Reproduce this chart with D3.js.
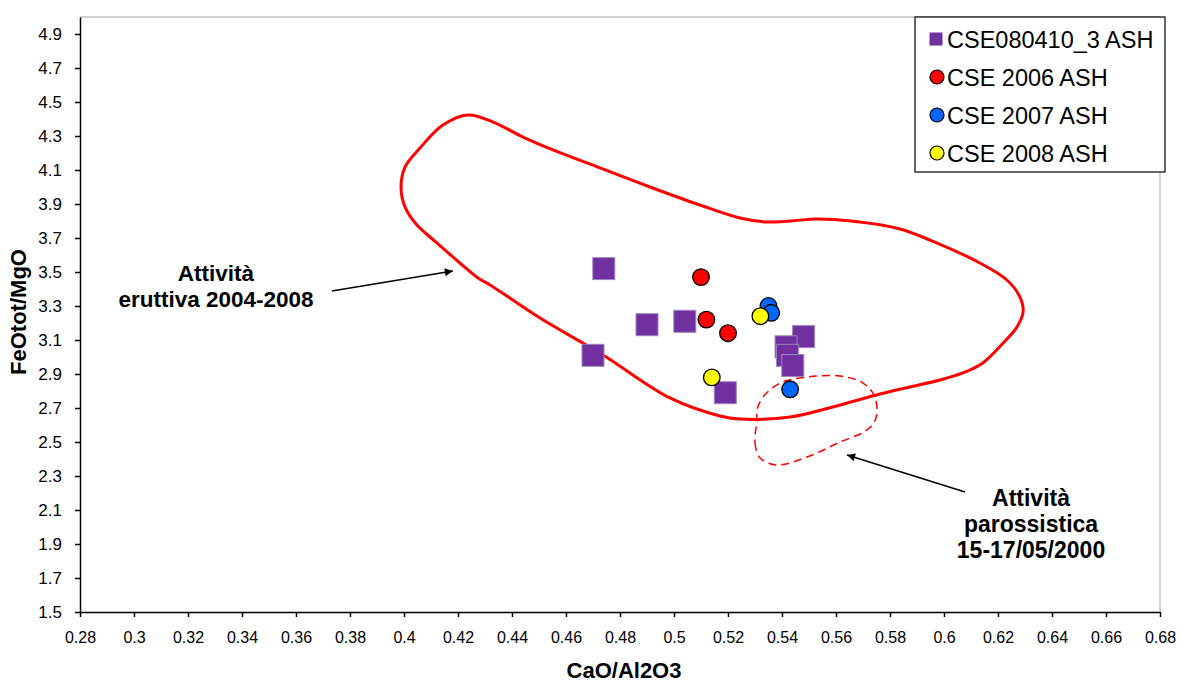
<!DOCTYPE html>
<html>
<head>
<meta charset="utf-8">
<script src="https://cdn.jsdelivr.net/npm/d3@7"></script>
<style>
    body { margin: 0; background: #fff; }
    svg text { font-family: "Liberation Sans", Arial, sans-serif; }
</style>
</head>
<body>
<div id="chart"></div>
<script>
    // data: [CaO/Al2O3, FeOtot/MgO]
    var cse080410 = [[0.474, 3.52], [0.470, 3.01], [0.490, 3.19], [0.504, 3.21], [0.519, 2.79],
                     [0.548, 3.12], [0.5415, 3.06], [0.542, 3.01], [0.544, 2.95]];
    var cse2006 = [[0.510, 3.47], [0.512, 3.22], [0.520, 3.14]];
    var cse2007 = [[0.535, 3.30], [0.536, 3.26], [0.543, 2.81]];
    var cse2008 = [[0.532, 3.24], [0.514, 2.88]];

    // field of the 2004-2008 activity (solid) and of the 2000 paroxysms (dashed)
    var envelope2004 = [[0.3989, 3.994], [0.4004, 4.118], [0.4059, 4.229], [0.4144, 4.365], [0.4237, 4.424],
                        [0.4330, 4.382], [0.4441, 4.294], [0.4552, 4.218], [0.4726, 4.112], [0.4911, 4.000],
                        [0.5096, 3.894], [0.5244, 3.818], [0.5344, 3.794], [0.5430, 3.800], [0.5530, 3.812],
                        [0.5689, 3.794], [0.5837, 3.753], [0.5948, 3.688], [0.6133, 3.553], [0.6233, 3.453],
                        [0.6281, 3.353], [0.6293, 3.265], [0.6270, 3.176], [0.6219, 3.082], [0.6144, 2.965],
                        [0.6070, 2.906], [0.5985, 2.865], [0.5874, 2.824], [0.5763, 2.782], [0.5615, 2.718],
                        [0.5430, 2.647], [0.5244, 2.635], [0.5170, 2.653], [0.4985, 2.759], [0.4737, 3.012],
                        [0.4504, 3.229], [0.4319, 3.424], [0.4274, 3.465], [0.4207, 3.553], [0.4122, 3.671],
                        [0.4048, 3.776], [0.4004, 3.882]];
    var envelope2000 = [[0.5307, 2.629], [0.5300, 2.494], [0.5319, 2.406], [0.5381, 2.365], [0.5493, 2.412],
                        [0.5615, 2.500], [0.5715, 2.571], [0.5748, 2.641], [0.5744, 2.765], [0.5700, 2.847],
                        [0.5615, 2.888], [0.5493, 2.882], [0.5393, 2.847], [0.5330, 2.765], [0.5307, 2.688]];

    var xTicks = d3.range(28, 69, 2).map(function(d) { return d / 100; });
    var yTicks = d3.range(15, 50, 2).map(function(d) { return d / 10; });

    var legendNames = ["CSE080410_3 ASH", "CSE 2006 ASH", "CSE 2007 ASH", "CSE 2008 ASH"];
    var circleColors = ["#FF0000", "#0066FF", "#FFFF00"];

    // dimensions
    var margin = {top: 17, right: 22, bottom: 71, left: 80};
    var width = 1182 - margin.left - margin.right;
    var height = 683 - margin.top - margin.bottom;

    var x = d3.scaleLinear().domain([0.28, 0.68]).range([0, width]);
    var y = d3.scaleLinear().domain([1.5, 5.0]).range([height, 0]);

    var svg = d3.select("#chart").append("svg")
            .attr("width", 1182)
            .attr("height", 683)
            .append("g")
            .attr("transform", "translate(" + margin.left + "," + margin.top + ")");

    // arrowhead
    svg.append("defs").append("marker")
            .attr("id", "arrow")
            .attr("viewBox", "0 0 10 10")
            .attr("refX", 10).attr("refY", 5)
            .attr("markerWidth", 10).attr("markerHeight", 8)
            .attr("markerUnits", "userSpaceOnUse")
            .attr("orient", "auto")
            .append("path")
            .attr("d", "M0,0 L10,5 L0,10 z")
            .attr("fill", "#000");

    // grey frame top/right
    svg.append("path")
            .attr("d", "M0,0 H" + width + " V" + height)
            .attr("fill", "none")
            .attr("stroke", "#a6a6a6")
            .attr("stroke-width", 1);

    // axes
    var xAxis = d3.axisBottom(x).tickValues(xTicks).tickSize(5).tickSizeOuter(0)
            .tickFormat(function(d) { return String(d); });
    var gx = svg.append("g")
            .attr("transform", "translate(0," + height + ")")
            .call(xAxis);
    gx.selectAll("text").attr("font-size", 16).attr("fill", "#000").attr("dy", "1.45em");

    var yAxis = d3.axisLeft(y).tickValues(yTicks).tickSize(5).tickSizeOuter(0)
            .tickFormat(d3.format(".1f"));
    var gy = svg.append("g").call(yAxis);
    gy.selectAll("text").attr("font-size", 17).attr("fill", "#000").attr("x", -18);

    svg.selectAll(".domain, .tick line").attr("stroke", "#000").attr("stroke-width", 1.5);

    // axis titles
    svg.append("text")
            .attr("x", width / 2 + 4)
            .attr("y", height + 66)
            .attr("text-anchor", "middle")
            .attr("font-size", 22)
            .attr("font-weight", "bold")
            .text("CaO/Al2O3");

    svg.append("text")
            .attr("transform", "translate(" + (-54) + "," + (312 - margin.top) + ") rotate(-90)")
            .attr("text-anchor", "middle")
            .attr("font-size", 22)
            .attr("font-weight", "bold")
            .text("FeOtot/MgO");

    // fields
    var area = d3.line()
            .x(function(d) { return x(d[0]); })
            .y(function(d) { return y(d[1]); })
            .curve(d3.curveCatmullRomClosed.alpha(0.5));

    svg.append("path")
            .datum(envelope2004)
            .attr("d", area)
            .attr("fill", "none")
            .attr("stroke", "#FF0000")
            .attr("stroke-width", 3);

    svg.append("path")
            .datum(envelope2000)
            .attr("d", area)
            .attr("fill", "none")
            .attr("stroke", "#FF0000")
            .attr("stroke-width", 1.5)
            .attr("stroke-dasharray", "8,5");

    // squares
    var sq = 22;
    svg.selectAll(".sq")
            .data(cse080410)
            .enter().append("rect")
            .attr("class", "sq")
            .attr("x", function(d) { return x(d[0]) - sq / 2; })
            .attr("y", function(d) { return y(d[1]) - sq / 2; })
            .attr("width", sq).attr("height", sq)
            .attr("fill", "#7030A0")
            .attr("stroke", "#9d85bf")
            .attr("stroke-width", 1);

    // circles
    [cse2006, cse2007, cse2008].forEach(function(series, i) {
        svg.selectAll(".c" + i)
                .data(series)
                .enter().append("circle")
                .attr("class", "c" + i)
                .attr("cx", function(d) { return x(d[0]); })
                .attr("cy", function(d) { return y(d[1]); })
                .attr("r", 8.3)
                .attr("fill", circleColors[i])
                .attr("stroke", "#000")
                .attr("stroke-width", 1.3);
    });

    // annotations
    function label(lines, cx, top, size) {
        var t = svg.append("text")
                .attr("text-anchor", "middle")
                .attr("font-size", size)
                .attr("font-weight", "bold");
        lines.forEach(function(s, i) {
            t.append("tspan").attr("x", cx).attr("y", top + i * 26).text(s);
        });
    }
    label(["Attività", "eruttiva 2004-2008"], 216 - margin.left, 281 - margin.top, 22.5);
    label(["Attività", "parossistica", "15-17/05/2000"], 1031 - margin.left, 506 - margin.top, 23);

    svg.append("line")
            .attr("x1", x(0.3733)).attr("y1", y(3.388))
            .attr("x2", x(0.4181)).attr("y2", y(3.506))
            .attr("stroke", "#000").attr("stroke-width", 1.5)
            .attr("marker-end", "url(#arrow)");
    svg.append("line")
            .attr("x1", x(0.6078)).attr("y1", y(2.206))
            .attr("x2", x(0.5641)).attr("y2", y(2.424))
            .attr("stroke", "#000").attr("stroke-width", 1.5)
            .attr("marker-end", "url(#arrow)");

    // legend
    var legend = svg.append("g")
            .attr("transform", "translate(" + (915 - margin.left) + "," + 0 + ")");
    legend.append("rect")
            .attr("width", 250).attr("height", 155)
            .attr("fill", "#fff")
            .attr("stroke", "#000")
            .attr("stroke-width", 1.2);

    legendNames.forEach(function(name, i) {
        var cy = 22 + i * 38;
        if (i === 0) {
            legend.append("rect")
                    .attr("x", 21 - 6.5).attr("y", cy - 6.5)
                    .attr("width", 13).attr("height", 13)
                    .attr("fill", "#7030A0");
        } else {
            legend.append("circle")
                    .attr("cx", 22).attr("cy", cy).attr("r", 7)
                    .attr("fill", circleColors[i - 1])
                    .attr("stroke", "#000").attr("stroke-width", 1.2);
        }
        legend.append("text")
                .attr("x", 32).attr("y", cy + 8.5)
                .attr("font-size", 23.5)
                .text(name);
    });
</script>
</body>
</html>
